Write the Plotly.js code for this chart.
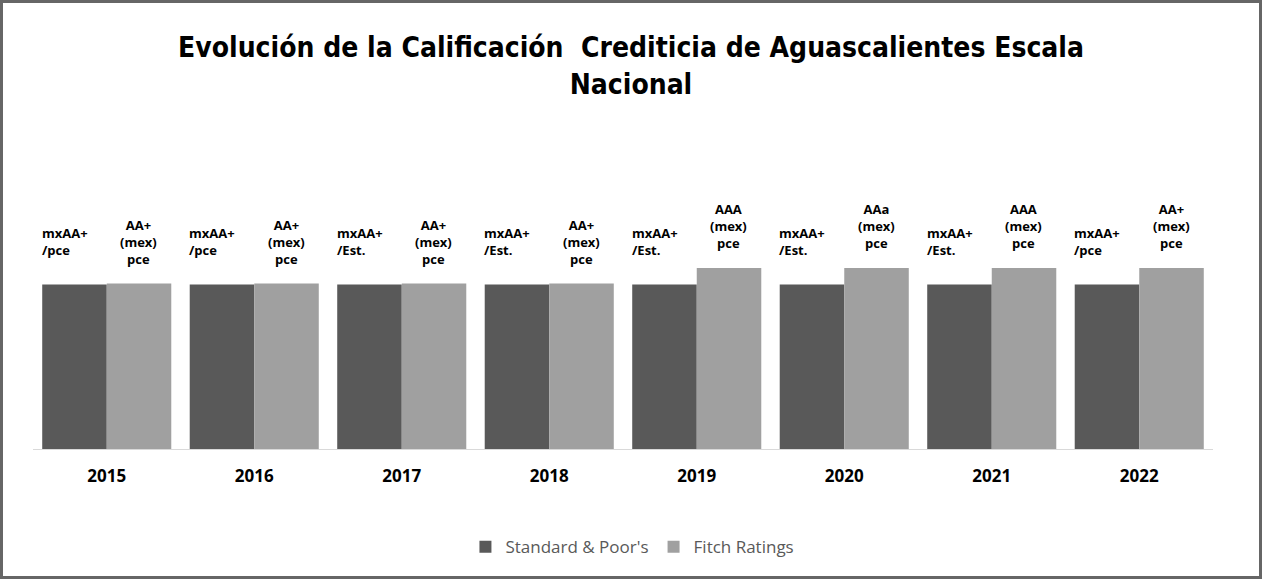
<!DOCTYPE html>
<html>
<head>
<meta charset="utf-8">
<script src="https://cdn.plot.ly/plotly-3.0.1.min.js"></script>
<style>
  html, body { margin: 0; padding: 0; background: #fff; }
  #chart { width: 1262px; height: 579px; box-sizing: border-box; border: 3px solid #666; }
</style>
</head>
<body>
<div id="chart"></div>
<script>
const years = ["2015", "2016", "2017", "2018", "2019", "2020", "2021", "2022"];
const spValues = [9, 9, 9, 9, 9, 9, 9, 9];
const fitchValues = [9.05, 9.05, 9.05, 9.05, 9.9, 9.9, 9.9, 9.9];
const spLabels = ["mxAA+<br>/pce", "mxAA+<br>/pce", "mxAA+<br>/Est.", "mxAA+<br>/Est.", "mxAA+<br>/Est.", "mxAA+<br>/Est.", "mxAA+<br>/Est.", "mxAA+<br>/pce"];
const fitchLabels = ["AA+<br>(mex)<br>pce", "AA+<br>(mex)<br>pce", "AA+<br>(mex)<br>pce", "AA+<br>(mex)<br>pce", "AAA<br>(mex)<br>pce", "AAa<br>(mex)<br>pce", "AAA<br>(mex)<br>pce", "AA+<br>(mex)<br>pce"];
const seriesNames = ["Standard & Poor's", "Fitch Ratings"];

const DARK = "#595959", LIGHT = "#a0a0a0";
const labelFont = {family: "Open Sans, sans-serif", size: 13, color: "#000"};

const traces = [
  {type: "bar", name: seriesNames[0], x: years, y: spValues, marker: {color: DARK}, hoverinfo: "skip"},
  {type: "bar", name: seriesNames[1], x: years, y: fitchValues, marker: {color: LIGHT}, hoverinfo: "skip"}
];

const annotations = [];
years.forEach((yr, i) => {
  annotations.push({x: i, y: spValues[i], xref: "x", yref: "y", text: "<b>" + spLabels[i] + "</b>",
    showarrow: false, xanchor: "left", yanchor: "bottom", align: "left", xshift: -67, yshift: 24, font: labelFont});
  annotations.push({x: i, y: fitchValues[i], xref: "x", yref: "y", text: "<b>" + fitchLabels[i] + "</b>",
    showarrow: false, xanchor: "center", yanchor: "bottom", align: "center", xshift: 32, yshift: 14, font: labelFont});
});

const layout = {
  width: 1256, height: 573,
  margin: {l: 30, r: 46, t: 100, b: 126},
  paper_bgcolor: "#fff", plot_bgcolor: "#fff",
  title: {text: "<b>Evolución de la Calificación  Crediticia de Aguascalientes Escala<br>Nacional</b>",
    x: 0.5, xref: "container", y: 0.905, yref: "container", yanchor: "top",
    font: {family: "Liberation Sans Narrow, DejaVu Sans Condensed, sans-serif", size: 28, color: "#000"}},
  barmode: "group", bargap: 0.125, bargroupgap: 0,
  xaxis: {type: "category", range: [-0.5, years.length - 0.5], showgrid: false, zeroline: false, showline: true, linecolor: "#d9d9d9", linewidth: 1,
    ticks: "outside", ticklen: 12, tickcolor: "rgba(0,0,0,0)", fixedrange: true,
    tickfont: {family: "Open Sans, sans-serif", size: 17, color: "#000", weight: "bold"}},
  yaxis: {range: [0, 18.93], visible: false, showgrid: false, zeroline: false, fixedrange: true},
  showlegend: true,
  legend: {orientation: "h", x: 0.508, xanchor: "center", y: -0.28, yanchor: "middle",
    font: {family: "Open Sans, sans-serif", size: 17, color: "#595959"}, itemwidth: 30, traceorder: "normal"},
  annotations: annotations
};

Plotly.newPlot("chart", traces, layout, {displayModeBar: false, staticPlot: true});
</script>
</body>
</html>
